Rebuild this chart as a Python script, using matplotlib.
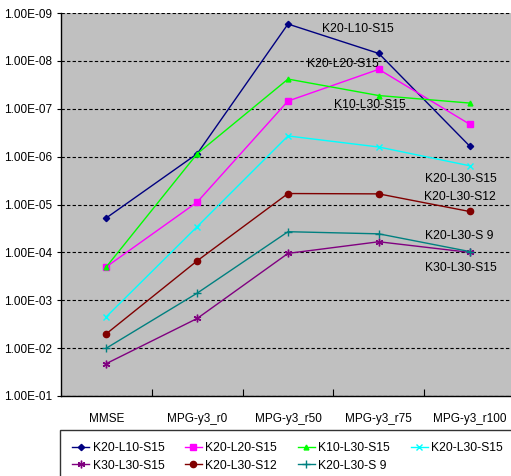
import matplotlib.pyplot as plt
from matplotlib.ticker import FixedLocator, NullLocator

plt.rcParams['font.family'] = ['Liberation Sans', 'DejaVu Sans']

# 1. Data
categories = ['MMSE', 'MPG-y3_r0', 'MPG-y3_r50', 'MPG-y3_r75', 'MPG-y3_r100']

k20_l10_s15 = [1.9e-5, 8.7e-7, 1.7e-9, 7.0e-9, 6.0e-7]
k20_l20_s15 = [2.0e-4, 8.9e-6, 6.9e-8, 1.5e-8, 2.1e-7]
k10_l30_s15 = [2.0e-4, 8.7e-7, 2.4e-8, 5.3e-8, 7.6e-8]
k20_l30_s15 = [2.2e-3, 2.9e-5, 3.7e-7, 6.3e-7, 1.55e-6]
k30_l30_s15 = [2.1e-2, 2.4e-3, 1.05e-4, 6.0e-5, 1.0e-4]
k20_l30_s12 = [5.0e-3, 1.5e-4, 5.9e-6, 6.0e-6, 1.4e-5]
k20_l30_s9 = [1.0e-2, 7.1e-4, 3.7e-5, 4.1e-5, 9.6e-5]

ytick_values = [1e-9, 1e-8, 1e-7, 1e-6, 1e-5, 1e-4, 1e-3, 1e-2, 1e-1]
ytick_labels = ['1.00E-09', '1.00E-08', '1.00E-07', '1.00E-06', '1.00E-05',
                '1.00E-04', '1.00E-03', '1.00E-02', '1.00E-01']

series = [
    ('K20-L10-S15', k20_l10_s15, '#000080', 'D', 3.2),
    ('K20-L20-S15', k20_l20_s15, '#FF00FF', 's', 4.5),
    ('K10-L30-S15', k10_l30_s15, '#00FF00', '^', 3.5),
    ('K20-L30-S15', k20_l30_s15, '#00FFFF', 'x', 4.5),
    ('K30-L30-S15', k30_l30_s15, '#800080', (6, 2, 0), 5.5),
    ('K20-L30-S12', k20_l30_s12, '#800000', 'o', 4.5),
    ('K20-L30-S 9', k20_l30_s9, '#008080', '+', 5.5),
]

# inline labels: (text, x axes fraction, y axes fraction)
inline_labels = [
    ('K20-L10-S15', 0.575, 0.958),
    ('K20-L20-S15', 0.542, 0.867),
    ('K10-L30-S15', 0.601, 0.760),
    ('K20-L30-S15', 0.802, 0.567),
    ('K20-L30-S12', 0.800, 0.520),
    ('K20-L30-S 9', 0.802, 0.418),
    ('K30-L30-S15', 0.802, 0.334),
]

# 2. Figure
fig = plt.figure(figsize=(5.11, 4.76), dpi=100)
ax = fig.add_axes([61 / 511, 1 - 396 / 476, 454 / 511, 383 / 476])
ax.set_facecolor('#C0C0C0')

x = list(range(len(categories)))
for name, vals, color, marker, ms in series:
    ax.plot(x, vals, color=color, marker=marker, markersize=ms, linewidth=1.0,
            markeredgewidth=1.0, label=name)

ax.set_yscale('log')
ax.set_ylim(1e-1, 1e-9)
ax.yaxis.set_major_locator(FixedLocator(ytick_values))
ax.yaxis.set_minor_locator(NullLocator())
ax.set_yticklabels(ytick_labels, fontsize=8.5)
ax.grid(axis='y', which='major', color='black', linestyle=(0, (3, 2)), linewidth=0.8)

ax.set_xlim(-0.5, 4.5)
ax.set_xticks(x)
ax.set_xticklabels(categories, fontsize=8.5)
ax.set_xticks([0.5, 1.5, 2.5, 3.5], minor=True)
ax.tick_params(axis='x', which='major', length=0, pad=12)
ax.tick_params(axis='x', which='minor', length=5, direction='in', width=0.8)
ax.tick_params(axis='y', length=3, width=0.8)

ax.spines['top'].set_visible(False)
ax.spines['right'].set_visible(False)
ax.spines['left'].set_linewidth(1.0)
ax.spines['bottom'].set_linewidth(1.0)

for text, tx, ty in inline_labels:
    ax.text(tx, ty, text, transform=ax.transAxes, fontsize=8.7,
            ha='left', va='center')

# 3. Legend (row-wise order like the original, right edge runs off the picture)
handles, labels = ax.get_legend_handles_labels()
order = [0, 4, 1, 5, 2, 6, 3]
leg = fig.legend([handles[i] for i in order], [labels[i] for i in order],
                 loc='upper left', bbox_to_anchor=(60 / 511, 0, 455 / 511, 46 / 476),
                 mode='expand', ncol=4, fontsize=8.7, frameon=True, fancybox=False,
                 handlelength=1.4, handletextpad=0.3, borderpad=1.0, labelspacing=0.45,
                 borderaxespad=0)
leg.get_frame().set_edgecolor('black')
leg.get_frame().set_linewidth(1.0)

plt.savefig('out.png', dpi=100)
plt.close()
